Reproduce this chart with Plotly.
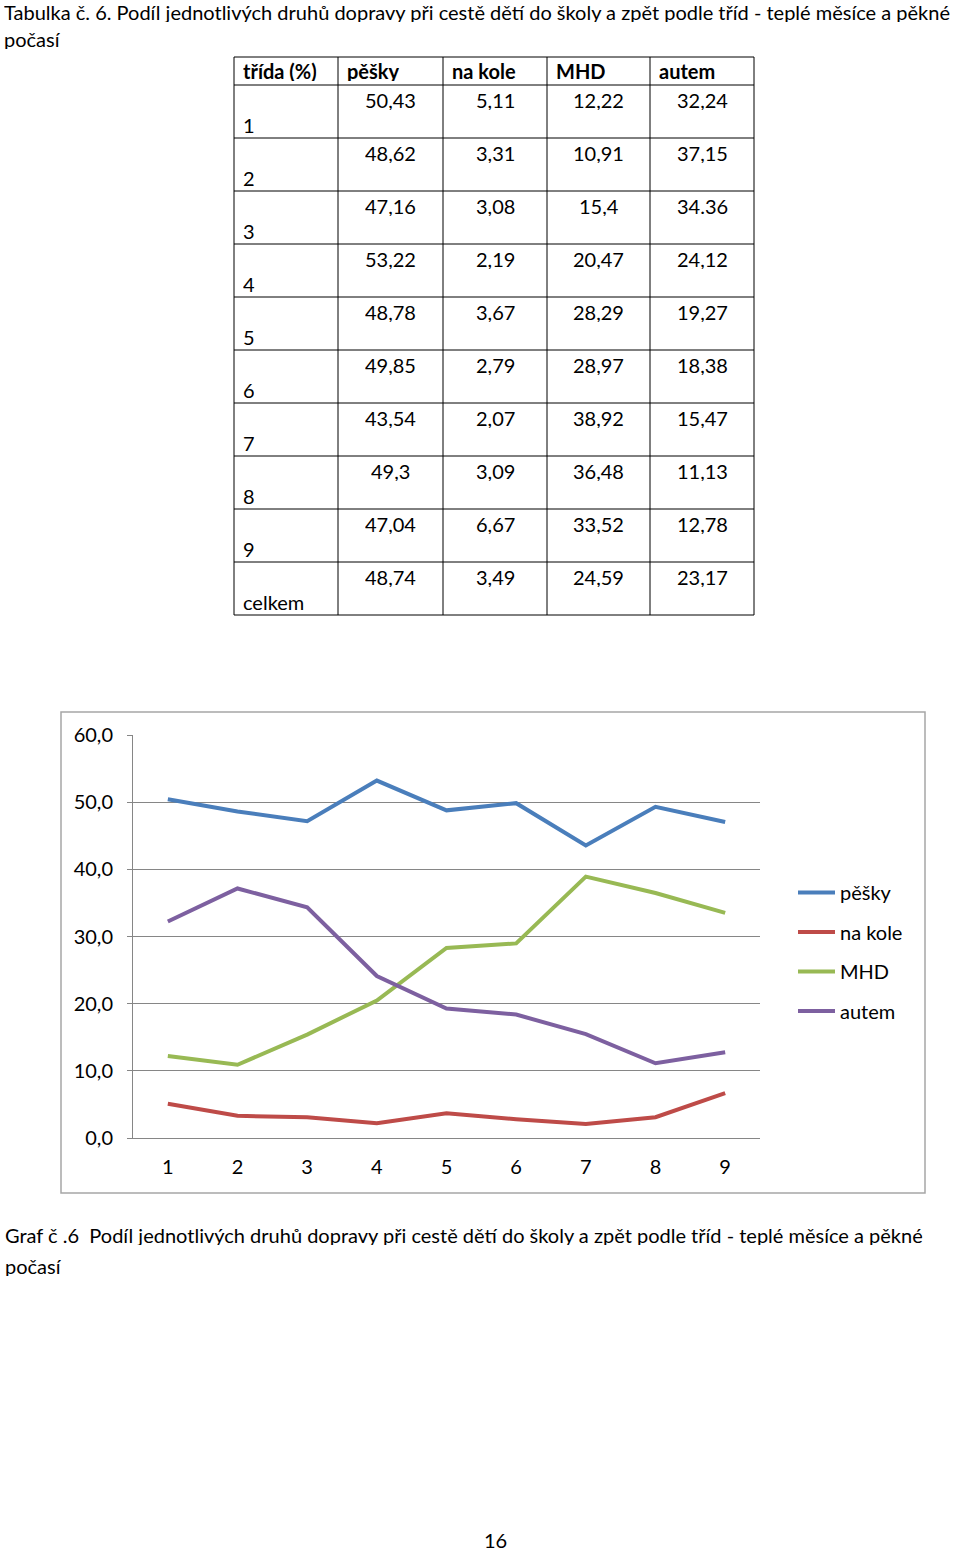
import plotly.graph_objects as go

W, H = 960, 1554
FONT = "Lato"
FS = 20

# ---------------- data ----------------
header = ["třída (%)", "pěšky", "na kole", "MHD", "autem"]
row_labels = ["1", "2", "3", "4", "5", "6", "7", "8", "9", "celkem"]
pesky_txt = ["50,43", "48,62", "47,16", "53,22", "48,78", "49,85", "43,54", "49,3", "47,04", "48,74"]
kolo_txt = ["5,11", "3,31", "3,08", "2,19", "3,67", "2,79", "2,07", "3,09", "6,67", "3,49"]
mhd_txt = ["12,22", "10,91", "15,4", "20,47", "28,29", "28,97", "38,92", "36,48", "33,52", "24,59"]
autem_txt = ["32,24", "37,15", "34.36", "24,12", "19,27", "18,38", "15,47", "11,13", "12,78", "23,17"]

classes = ["1", "2", "3", "4", "5", "6", "7", "8", "9"]
y_ticks = [0, 10, 20, 30, 40, 50, 60]
y_ticktext = ["0,0", "10,0", "20,0", "30,0", "40,0", "50,0", "60,0"]

series_names = ["pěšky", "na kole", "MHD", "autem"]
series_txt = [pesky_txt, kolo_txt, mhd_txt, autem_txt]
colors = ["#4A7EBB", "#BE4B48", "#98B954", "#7D60A0"]


def num(s):
    return float(s.replace(",", "."))


def py(px):
    return 1 - px / H


def pxx(px):
    return px / W


fig = go.Figure()

# ---------------- table (grid geometry) ----------------
col_edges = [234, 338, 443, 547, 650, 754]
tab_top = 57
head_h = 28
row_h = 53
row_edges = [tab_top, tab_top + head_h] + [tab_top + head_h + row_h * (i + 1) for i in range(len(row_labels))]

shapes = []
for xe in col_edges:
    shapes.append(dict(type="line", xref="paper", yref="paper",
                       x0=pxx(xe), x1=pxx(xe), y0=py(row_edges[0]), y1=py(row_edges[-1]),
                       line=dict(color="black", width=1)))
for ye in row_edges:
    shapes.append(dict(type="line", xref="paper", yref="paper",
                       x0=pxx(col_edges[0]), x1=pxx(col_edges[-1]), y0=py(ye), y1=py(ye),
                       line=dict(color="black", width=1)))

annotations = []
for j, h in enumerate(header):
    annotations.append(dict(text="<b>%s</b>" % h, x=pxx(col_edges[j] + 8), y=py(tab_top + head_h / 2),
                            xanchor="left", yanchor="middle"))
for i, lab in enumerate(row_labels):
    top = tab_top + head_h + row_h * i
    annotations.append(dict(text=lab, x=pxx(col_edges[0] + 8), y=py(top + 40),
                            xanchor="left", yanchor="middle"))
    for j, s in enumerate(series_txt):
        cx = (col_edges[j + 1] + col_edges[j + 2]) / 2
        annotations.append(dict(text=s[i], x=pxx(cx), y=py(top + 15),
                                xanchor="center", yanchor="middle"))

# ---------------- chart ----------------
for name, txt, col in zip(series_names, series_txt, colors):
    fig.add_trace(go.Scatter(
        x=classes,
        y=[num(v) for v in txt[:9]],
        mode="lines",
        name=name,
        legendgroup=name,
        line=dict(color=col, width=4),
    ))

# chart frame
shapes.append(dict(type="rect", xref="paper", yref="paper",
                   x0=pxx(61), x1=pxx(925), y0=py(1193), y1=py(712),
                   line=dict(color="#A6A6A6", width=1.5), fillcolor="rgba(0,0,0,0)", layer="below"))

# page texts
texts = [
    ("Tabulka č. 6. Podíl jednotlivých druhů dopravy při cestě dětí do školy a zpět podle tříd - teplé měsíce a pěkné", 3, 12, "left"),
    ("počasí", 3, 39, "left"),
    ("Graf č .6  Podíl jednotlivých druhů dopravy při cestě dětí do školy a zpět podle tříd - teplé měsíce a pěkné", 4, 1235, "left"),
    ("počasí", 4, 1266, "left"),
    ("16", 495, 1540, "center"),
]
for t, x, y, xa in texts:
    annotations.append(dict(text=t, x=pxx(x), y=py(y), xanchor=xa, yanchor="middle"))

for a in annotations:
    a.update(xref="paper", yref="paper", showarrow=False, height=20, valign="middle",
             borderpad=0, font=dict(family=FONT, size=FS, color="black"))

fig.update_layout(
    width=W, height=H,
    margin=dict(l=0, r=0, t=0, b=0, autoexpand=False),
    paper_bgcolor="white",
    plot_bgcolor="white",
    font=dict(family=FONT, size=FS, color="black"),
    shapes=shapes,
    annotations=annotations,
    xaxis=dict(
        domain=[pxx(133), pxx(760)],
        type="category",
        range=[-0.5, 8.5],
        showgrid=False,
        showline=True, linecolor="#868686", linewidth=1,
        ticks="", ticklabelstandoff=11,
        tickfont=dict(family=FONT, size=FS, color="black"),
        minor=dict(ticks="outside", ticklen=6, tickcolor="#868686", tick0=-0.5, dtick=1, showgrid=False),
        fixedrange=True,
    ),
    yaxis=dict(
        domain=[py(1138), py(735)],
        range=[0, 60],
        tickvals=y_ticks, ticktext=y_ticktext,
        showgrid=True, gridcolor="#868686", gridwidth=1,
        showline=True, linecolor="#868686", linewidth=1,
        ticks="outside", ticklen=5, tickcolor="#868686",
        ticklabelstandoff=10,
        tickfont=dict(family=FONT, size=FS, color="black"),
        zeroline=False,
        fixedrange=True,
    ),
    showlegend=True,
    legend=dict(
        x=pxx(793), y=py(873), xanchor="left", yanchor="top",
        font=dict(family=FONT, size=FS, color="black"),
        tracegroupgap=10.5,
        bgcolor="rgba(0,0,0,0)",
        itemwidth=37,
    ),
)

fig.write_html("out.html", config={"displayModeBar": False},
               post_script="document.body.style.margin='0px';document.body.style.overflow='hidden';")
